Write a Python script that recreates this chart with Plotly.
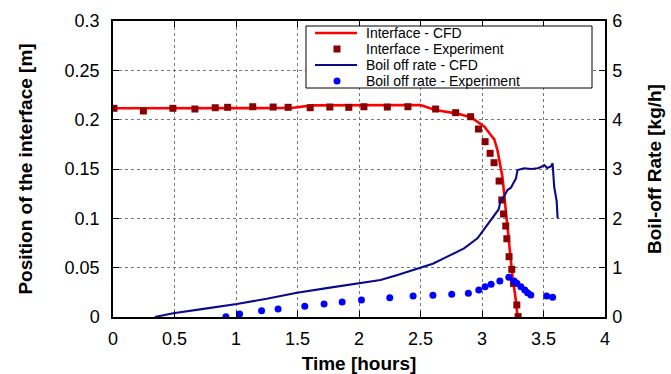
import plotly.graph_objects as go

# ---------------- data ----------------
# Interface position - CFD (hours, m)
iface_cfd_t = [0.0, 1.45, 1.62, 2.0, 2.5, 2.62, 2.79, 2.91, 2.96, 3.02, 3.071, 3.10, 3.126,
               3.166, 3.193, 3.221, 3.248, 3.275, 3.289]
iface_cfd_y = [0.2115, 0.2118, 0.2145, 0.2147, 0.2148, 0.2098, 0.2064, 0.2024, 0.198, 0.1929,
               0.1845, 0.180, 0.169, 0.142, 0.1084, 0.0747, 0.0408, 0.0172, 0.0]

# Interface position - Experiment (hours, m)
iface_exp_t = [0.008, 0.247, 0.487, 0.666, 0.831, 0.932, 1.136, 1.302, 1.424, 1.603, 1.763,
               1.917, 2.040, 2.230, 2.398, 2.623, 2.786, 2.908, 2.971, 3.025, 3.066, 3.098,
               3.139, 3.161, 3.175, 3.193, 3.202, 3.220, 3.242, 3.256, 3.283, 3.294]
iface_exp_y = [0.2115, 0.2088, 0.2115, 0.2108, 0.2121, 0.2125, 0.2131, 0.2128, 0.2125, 0.2121,
               0.2128, 0.2125, 0.2131, 0.2128, 0.2131, 0.2108, 0.2071, 0.2030, 0.1905, 0.1777,
               0.1659, 0.1564, 0.1378, 0.1186, 0.1044, 0.0922, 0.0793, 0.0611, 0.0483, 0.0341,
               0.0122, 0.0003]

# Boil off rate - CFD (hours, kg/h)
boil_cfd_t = [0.34, 0.49, 0.75, 1.007, 1.25, 1.496, 1.75, 2.012, 2.175, 2.3, 2.474, 2.6, 2.718,
              2.854, 2.963, 3.044, 3.112, 3.135, 3.153, 3.18, 3.207, 3.235, 3.261, 3.275, 3.289,
              3.343, 3.40, 3.452, 3.48, 3.506, 3.53, 3.56, 3.574, 3.587, 3.60, 3.607, 3.615]
boil_cfd_y = [0.0, 0.075, 0.17, 0.264, 0.37, 0.493, 0.59, 0.696, 0.75, 0.84, 0.986, 1.08, 1.223,
              1.392, 1.595, 1.865, 2.10, 2.18, 2.372, 2.45, 2.574, 2.62, 2.743, 2.80, 2.98,
              3.014, 3.0, 3.014, 3.04, 3.08, 3.02, 3.05, 3.115, 2.64, 2.45, 2.35, 2.0]

# Boil off rate - Experiment (hours, kg/h)
boil_exp_t = [0.918, 1.029, 1.208, 1.342, 1.559, 1.716, 1.863, 2.020, 2.250, 2.440, 2.601,
              2.754, 2.889, 2.974, 3.025, 3.074, 3.145, 3.218, 3.261, 3.283, 3.316, 3.348,
              3.370, 3.397, 3.525, 3.574]
boil_exp_y = [0.006, 0.06, 0.128, 0.162, 0.216, 0.264, 0.304, 0.345, 0.392, 0.426, 0.44,
              0.46, 0.48, 0.547, 0.614, 0.662, 0.73, 0.805, 0.73, 0.683, 0.614, 0.547,
              0.493, 0.446, 0.426, 0.40]

legend_labels = ["Interface - CFD", "Interface - Experiment",
                 "Boil off rate - CFD", "Boil off rate - Experiment"]

# ---------------- style ----------------
FONT = "Liberation Sans, Arial, Helvetica, sans-serif"
RED = "#ff0000"
DARKRED = "#8b0000"
NAVY = "#0a0a8a"
BLUE = "#0000ff"

W, H = 671, 374
ML, MR, MT, MB = 113, 66, 21, 57
PW, PH = W - ML - MR, H - MT - MB


def px(x):
    return (x - ML) / PW


def py(y):
    return (H - MB - y) / PH


fig = go.Figure()
fig.add_trace(go.Scatter(x=iface_cfd_t, y=iface_cfd_y, mode="lines",
                         line=dict(color=RED, width=2.6), name=legend_labels[0]))
fig.add_trace(go.Scatter(x=iface_exp_t, y=iface_exp_y, mode="markers",
                         marker=dict(symbol="square", size=7, color=DARKRED),
                         name=legend_labels[1]))
fig.add_trace(go.Scatter(x=boil_cfd_t, y=boil_cfd_y, mode="lines", yaxis="y2",
                         line=dict(color=NAVY, width=2.1), name=legend_labels[2]))
fig.add_trace(go.Scatter(x=boil_exp_t, y=boil_exp_y, mode="markers", yaxis="y2",
                         marker=dict(symbol="circle", size=7, color=BLUE),
                         name=legend_labels[3]))

axis_common = dict(showline=True, linecolor="black", linewidth=1.5, ticks="inside",
                   ticklen=6, tickcolor="black", tickwidth=1,
                   tickfont=dict(family=FONT, size=18, color="black"),
                   zeroline=False, automargin=False)

fig.update_layout(
    width=W, height=H,
    margin=dict(l=ML, r=MR, t=MT, b=MB),
    paper_bgcolor="white", plot_bgcolor="white",
    showlegend=False,
    xaxis=dict(range=[0, 4], dtick=0.5, tick0=0, mirror="ticks",
               showgrid=True, gridcolor="#777777", griddash="dot", gridwidth=1,
               ticklabelstandoff=5,
               title=dict(text="<b>Time [hours]</b>", standoff=16,
                          font=dict(family=FONT, size=19, color="black")),
               **axis_common),
    yaxis=dict(range=[0, 0.3], dtick=0.05, tick0=0, mirror=True,
               showgrid=True, gridcolor="#777777", griddash="dot", gridwidth=1,
               ticklabelstandoff=8,
               title=dict(text="<b>Position of the interface [m]</b>", standoff=27,
                          font=dict(family=FONT, size=19, color="black")),
               **axis_common),
    yaxis2=dict(range=[0, 6], dtick=1, tick0=0, overlaying="y", side="right",
                showgrid=False, ticklabelstandoff=2,
                title=dict(text="<b>Boil-off Rate [kg/h]</b>", standoff=26,
                           font=dict(family=FONT, size=19, color="black")),
                **axis_common),
)

# ---------------- legend (drawn manually, gnuplot style) ----------------
shapes = [dict(type="rect", xref="paper", yref="paper",
               x0=px(306), x1=px(592), y0=py(88), y1=py(26),
               line=dict(color="black", width=1), fillcolor="white", layer="above")]
rows = [33, 49, 65, 81]
# line samples
shapes.append(dict(type="line", xref="paper", yref="paper", x0=px(315), x1=px(357),
                   y0=py(rows[0]), y1=py(rows[0]), line=dict(color=RED, width=2.6),
                   layer="above"))
shapes.append(dict(type="line", xref="paper", yref="paper", x0=px(315), x1=px(357),
                   y0=py(rows[2]), y1=py(rows[2]), line=dict(color=NAVY, width=2.1),
                   layer="above"))
# marker samples
shapes.append(dict(type="rect", xref="paper", yref="paper", x0=px(333.5), x1=px(340.5),
                   y0=py(rows[1] + 3.5), y1=py(rows[1] - 3.5), line=dict(width=0),
                   fillcolor=DARKRED, layer="above"))
shapes.append(dict(type="circle", xref="paper", yref="paper", x0=px(333.5), x1=px(340.5),
                   y0=py(rows[3] + 3.5), y1=py(rows[3] - 3.5), line=dict(width=0),
                   fillcolor=BLUE, layer="above"))
annotations = []
for lab, r in zip(legend_labels, rows):
    annotations.append(dict(text=lab, xref="paper", yref="paper", x=px(365), y=py(r),
                            xanchor="left", yanchor="middle", showarrow=False,
                            borderpad=0,
                            font=dict(family=FONT, size=14, color="black")))
fig.update_layout(shapes=shapes, annotations=annotations)

fig.write_html("out.html")
